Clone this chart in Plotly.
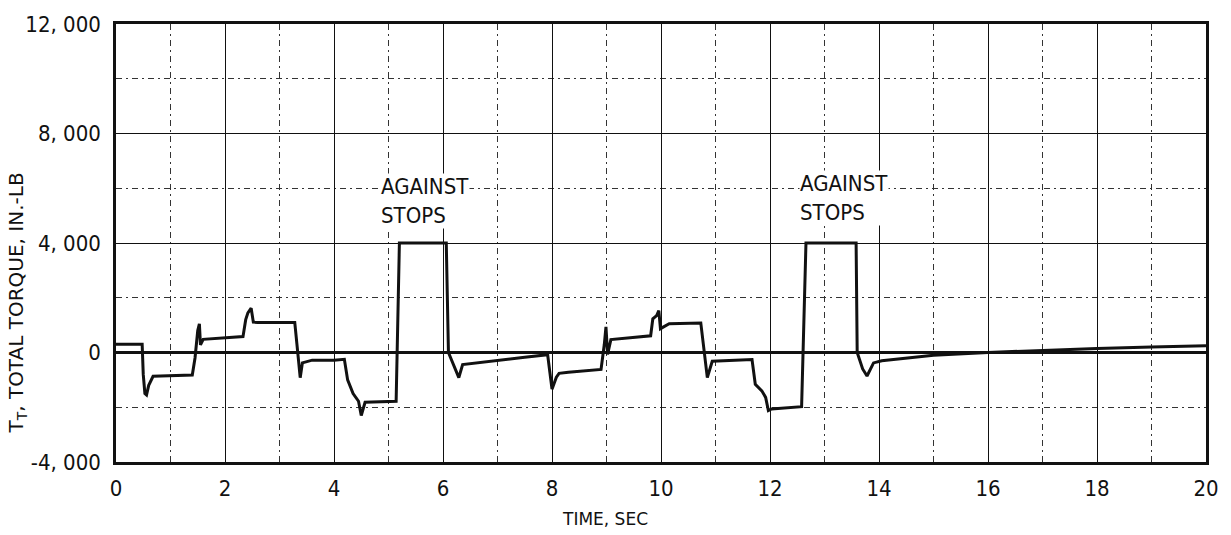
import plotly.graph_objects as go

# Total torque trace, time in seconds and torque in in.-lb
time_s = [0.00, 0.48, 0.50, 0.53, 0.56, 0.60, 0.68, 1.00, 1.40, 1.45,
          1.50, 1.53, 1.55, 1.60, 2.00, 2.33, 2.38, 2.42, 2.48, 2.52,
          2.60, 3.28, 3.32, 3.38, 3.42, 3.60, 4.00, 4.19, 4.25, 4.35,
          4.45, 4.50, 4.57, 5.14, 5.20, 6.06, 6.10, 6.20, 6.29, 6.36,
          6.60, 7.00, 7.50, 7.92, 7.95, 8.00, 8.08, 8.13, 8.30, 8.90,
          8.96, 8.99, 9.02, 9.08, 9.81, 9.85, 9.92, 9.96, 9.99, 10.15,
          10.73, 10.80, 10.85, 10.94, 11.67, 11.73, 11.85, 11.92, 11.97, 12.03,
          12.58, 12.66, 13.58, 13.60, 13.70, 13.78, 13.90, 14.05, 15.00, 16.00,
          17.00, 18.00, 19.00, 20.00]
torque_inlb = [300, 300, -800, -1500, -1550, -1200, -870, -860, -820, -200,
               800, 1050, 280, 480, 520, 580, 1200, 1450, 1620, 1110,
               1100, 1100, 300, -920, -380, -280, -280, -250, -1000, -1500,
               -1780, -2300, -1820, -1780, 4000, 4000, 0, -500, -920, -440,
               -380, -270, -170, -80, -600, -1340, -900, -760, -720, -620,
               300, 940, -70, 470, 610, 1230, 1350, 1530, 870, 1050,
               1080, 0, -920, -320, -260, -1160, -1400, -1640, -2120, -2060,
               -1980, 4000, 4000, 0, -600, -860, -380, -300, -100, 0,
               80, 150, 200, 250]

x_ticks = [0, 2, 4, 6, 8, 10, 12, 14, 16, 18, 20]
y_ticks = [-4000, 0, 4000, 8000, 12000]
y_tick_text = ["-4, 000", "0", "4, 000", "8, 000", "12, 000"]

stop_label_x = [4.84, 12.53]
stop_label_y = [5550, 5660]
stop_label_text = ["AGAINST<br>STOPS", "AGAINST<br>STOPS"]

NARROW = "Liberation Sans Narrow, DejaVu Sans Condensed, Arial Narrow, sans-serif"
WIDE = "DejaVu Sans, Verdana, sans-serif"
INK = "#111111"

fig = go.Figure()
fig.add_trace(go.Scatter(
    x=time_s, y=torque_inlb, mode="lines",
    line=dict(color=INK, width=3),
    hoverinfo="skip", showlegend=False,
))

for xs, ys, txt in zip(stop_label_x, stop_label_y, stop_label_text):
    fig.add_annotation(
        x=xs, y=ys, text=txt, showarrow=False,
        xanchor="left", yanchor="middle", align="left",
        font=dict(family=NARROW, size=22, color=INK),
        bgcolor="white", borderpad=0,
    )

# Axis titles, placed as free text
fig.add_annotation(
    xref="paper", yref="paper", x=0.4487, y=-0.130,
    text="TIME, SEC", showarrow=False,
    xanchor="center", yanchor="middle",
    font=dict(family=WIDE, size=17, color=INK),
)
fig.add_annotation(
    xref="paper", yref="paper", x=-0.0907, y=0.362,
    text="T<sub>T</sub>, TOTAL TORQUE, IN.-LB", showarrow=False,
    textangle=-90, xanchor="center", yanchor="middle",
    font=dict(family=WIDE, size=20, color=INK),
)

minor_grid = dict(showgrid=True, gridcolor="#333333", gridwidth=1,
                  griddash="6px,4px,2px,4px", ticklen=0)

fig.update_xaxes(
    range=[0, 20], tickvals=x_ticks, ticks="",
    showgrid=True, gridcolor=INK, gridwidth=1.2,
    minor=dict(dtick=1, tick0=0, **minor_grid),
    showline=True, linecolor=INK, linewidth=2.5, mirror=True,
    zeroline=False, ticklabelstandoff=5,
    tickfont=dict(family=NARROW, size=22, color=INK),
)
fig.update_yaxes(
    range=[-4000, 12000], tickvals=y_ticks, ticktext=y_tick_text, ticks="",
    showgrid=True, gridcolor=INK, gridwidth=1.2,
    minor=dict(dtick=2000, tick0=0, **minor_grid),
    showline=True, linecolor=INK, linewidth=2.5, mirror=True,
    zeroline=True, zerolinecolor=INK, zerolinewidth=2.5,
    ticklabelstandoff=8,
    tickfont=dict(family=NARROW, size=22, color=INK),
)

fig.update_layout(
    width=1231, height=535,
    margin=dict(l=116, r=23, t=16, b=73),
    paper_bgcolor="white", plot_bgcolor="white",
)

fig.write_html("out.html")
